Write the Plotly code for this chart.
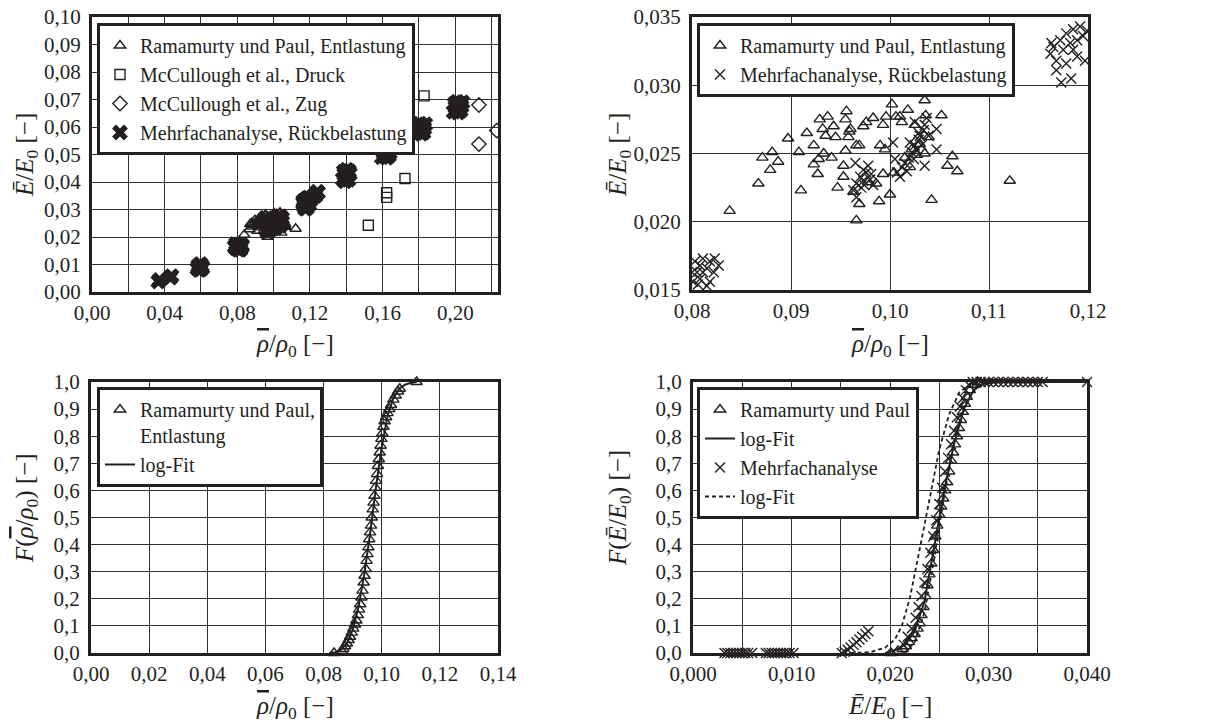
import plotly.graph_objects as go

FONT = "Liberation Serif, Times New Roman, DejaVu Serif, serif"
INK = "#231f20"
GRID = "#2e2e2e"

# ---------------- data: top plots (E/E0 over rho/rho0) ----------------
ram_rho = [0.0838, 0.0867, 0.0871, 0.0879, 0.0881, 0.0887, 0.0897, 0.0908, 0.0910, 0.0916,
           0.0923, 0.0923, 0.0927, 0.0928, 0.0929, 0.0932, 0.0933, 0.0937, 0.0935, 0.0941,
           0.0943, 0.0945, 0.0947, 0.0953, 0.0953, 0.0955, 0.0956, 0.0955, 0.0958, 0.0960,
           0.0963, 0.0966, 0.0966, 0.0969, 0.0969, 0.0973, 0.0976, 0.0983, 0.0986, 0.0989,
           0.0990, 0.0993, 0.0993, 0.0995, 0.0996, 0.1000, 0.1002, 0.1004, 0.1006, 0.1010,
           0.1018, 0.1015, 0.1020, 0.1022, 0.1025, 0.1030, 0.1035, 0.1036, 0.1039, 0.1035,
           0.1042, 0.1052, 0.1058, 0.1063, 0.1068, 0.1121, 0.0959, 0.0978, 0.1012, 0.1027]
ram_E = [0.0208, 0.0228, 0.0247, 0.0238, 0.0251, 0.0244, 0.0261, 0.0251, 0.0223, 0.0265,
         0.0256, 0.0242, 0.0235, 0.0246, 0.0275, 0.0268, 0.0250, 0.0277, 0.0263, 0.0247,
         0.0270, 0.0262, 0.0225, 0.0241, 0.0233, 0.0252, 0.0281, 0.0275, 0.0262, 0.0268,
         0.0222, 0.0256, 0.0201, 0.0213, 0.0256, 0.0270, 0.0273, 0.0276, 0.0228, 0.0215,
         0.0256, 0.0271, 0.0235, 0.0253, 0.0277, 0.0220, 0.0286, 0.0236, 0.0277, 0.0277,
         0.0282, 0.0247, 0.0240, 0.0253, 0.0271, 0.0257, 0.0289, 0.0278, 0.0262, 0.0250,
         0.0216, 0.0278, 0.0241, 0.0248, 0.0237, 0.0230, 0.0266, 0.0229, 0.0273, 0.0249]

mcc_druck_rho = [0.1521, 0.1622, 0.1622, 0.1723, 0.1828]
mcc_druck_E = [0.0243, 0.0361, 0.0344, 0.0413, 0.0713]
mcc_zug_rho = [0.2130, 0.2130, 0.2228]
mcc_zug_E = [0.0680, 0.0538, 0.0587]

# Mehrfachanalyse clusters (one small list per density group)
mfa_a_rho = [0.0365, 0.0372, 0.0432, 0.0438]
mfa_a_E = [0.0038, 0.0044, 0.0052, 0.0058]
mfa_c_rho = [0.0580, 0.0588, 0.0595, 0.0600, 0.0605, 0.0590, 0.0598, 0.0584, 0.0608]
mfa_c_E = [0.0085, 0.0098, 0.0090, 0.0082, 0.0095, 0.0080, 0.0102, 0.0092, 0.0088]
mfa_d_rho = [0.0801, 0.0805, 0.0808, 0.0811, 0.0815, 0.0818, 0.0822, 0.0823, 0.0808, 0.0815,
             0.0803, 0.0827, 0.0818, 0.0811, 0.0806, 0.0800, 0.0790, 0.0795, 0.0785, 0.0792]
mfa_d_E = [0.0156, 0.0163, 0.0168, 0.0173, 0.0166, 0.0171, 0.0163, 0.0173, 0.0158, 0.0153,
           0.0171, 0.0168, 0.0156, 0.0163, 0.0154, 0.0163, 0.0160, 0.0170, 0.0165, 0.0175]
mfa_e_rho = [0.0970, 0.0973, 0.0976, 0.0980, 0.0974, 0.0971, 0.0983, 0.0978, 0.0966, 0.0981,
             0.0973, 0.0963, 0.0966, 0.0965, 0.1007, 0.1012, 0.1015, 0.1019, 0.1022, 0.1025,
             0.1029, 0.1030, 0.1034, 0.1035, 0.1037, 0.1010, 0.1017, 0.1024, 0.1027, 0.1020,
             0.1032, 0.1029, 0.1039, 0.1003, 0.1005, 0.1047, 0.1047, 0.1035, 0.1025]
mfa_e_E = [0.0233, 0.0230, 0.0236, 0.0231, 0.0227, 0.0225, 0.0227, 0.0241, 0.0228, 0.0235,
           0.0238, 0.0223, 0.0218, 0.0243, 0.0236, 0.0240, 0.0243, 0.0247, 0.0251, 0.0256,
           0.0260, 0.0263, 0.0267, 0.0271, 0.0276, 0.0233, 0.0237, 0.0246, 0.0253, 0.0258,
           0.0256, 0.0265, 0.0263, 0.0258, 0.0246, 0.0253, 0.0268, 0.0241, 0.0273]
mfa_f_rho = [0.1162, 0.1165, 0.1168, 0.1172, 0.1175, 0.1178, 0.1182, 0.1185, 0.1189, 0.1192,
             0.1195, 0.1199, 0.1173, 0.1183, 0.1168, 0.1178, 0.1189, 0.1197, 0.1185, 0.1163,
             0.1205, 0.1215, 0.1225, 0.1235, 0.1245, 0.1230, 0.1240]
mfa_f_E = [0.0323, 0.0328, 0.0318, 0.0333, 0.0326, 0.0338, 0.0331, 0.0341, 0.0333, 0.0343,
           0.0336, 0.0340, 0.0302, 0.0305, 0.0311, 0.0316, 0.0321, 0.0318, 0.0326, 0.0331,
           0.0335, 0.0345, 0.0352, 0.0358, 0.0362, 0.0350, 0.0365]
mfa_g_rho = [0.1380, 0.1388, 0.1395, 0.1400, 0.1405, 0.1410, 0.1415, 0.1392, 0.1420, 0.1385, 0.1402, 0.1412]
mfa_g_E = [0.0410, 0.0428, 0.0418, 0.0435, 0.0412, 0.0425, 0.0440, 0.0402, 0.0430, 0.0438, 0.0445, 0.0408]
mfa_h_rho = [0.1595, 0.1605, 0.1610, 0.1618, 0.1625, 0.1632, 0.1640, 0.1600, 0.1622, 0.1645, 0.1612, 0.1635]
mfa_h_E = [0.0490, 0.0505, 0.0495, 0.0512, 0.0500, 0.0515, 0.0505, 0.0515, 0.0488, 0.0520, 0.0522, 0.0495]
mfa_i_rho = [0.1785, 0.1795, 0.1800, 0.1808, 0.1815, 0.1822, 0.1830, 0.1790, 0.1812, 0.1835, 0.1805, 0.1825]
mfa_i_E = [0.0578, 0.0592, 0.0582, 0.0600, 0.0588, 0.0605, 0.0595, 0.0605, 0.0575, 0.0610, 0.0612, 0.0580]
mfa_j_rho = [0.1990, 0.2000, 0.2005, 0.2012, 0.2020, 0.2028, 0.2035, 0.1995, 0.2015, 0.2040, 0.2010, 0.2030]
mfa_j_E = [0.0655, 0.0672, 0.0662, 0.0680, 0.0668, 0.0685, 0.0675, 0.0685, 0.0652, 0.0690, 0.0692, 0.0660]

# ---------------- data: bottom-left CDF of rho/rho0 ----------------
cdf_rho_x = [0.0836, 0.0862, 0.0868, 0.0874, 0.0880, 0.0886, 0.0891, 0.0897, 0.0902, 0.0908,
             0.0913, 0.0918, 0.0922, 0.0926, 0.0930, 0.0934, 0.0938, 0.0941, 0.0945, 0.0948,
             0.0951, 0.0954, 0.0957, 0.0960, 0.0963, 0.0966, 0.0969, 0.0972, 0.0975, 0.0978,
             0.0981, 0.0984, 0.0987, 0.0990, 0.0993, 0.0996, 0.0999, 0.1002, 0.1006, 0.1010,
             0.1015, 0.1020, 0.1026, 0.1032, 0.1040, 0.1048, 0.1056, 0.1062, 0.1120]
cdf_rho_F = [0.000, 0.008, 0.015, 0.025, 0.035, 0.048, 0.060, 0.075, 0.090, 0.105,
             0.120, 0.140, 0.160, 0.180, 0.205, 0.230, 0.260, 0.285, 0.310, 0.340,
             0.365, 0.390, 0.420, 0.445, 0.470, 0.500, 0.530, 0.555, 0.580, 0.610,
             0.635, 0.660, 0.690, 0.715, 0.740, 0.765, 0.790, 0.810, 0.835, 0.855,
             0.870, 0.885, 0.900, 0.915, 0.935, 0.950, 0.965, 0.975, 1.000]
fit_rho_x = [0.0820, 0.0840, 0.0860, 0.0880, 0.0900, 0.0920, 0.0940, 0.0960, 0.0980, 0.1000,
             0.1020, 0.1040, 0.1060, 0.1080, 0.1100, 0.1120]
fit_rho_F = [0.000, 0.003, 0.012, 0.035, 0.085, 0.170, 0.290, 0.440, 0.610, 0.760,
             0.875, 0.940, 0.975, 0.990, 0.997, 1.000]

# ---------------- data: bottom-right CDF of E/E0 ----------------
cdf_ram_E_x = [0.0201, 0.0208, 0.0213, 0.0216, 0.0219, 0.0222, 0.0225, 0.0228, 0.0230, 0.0232,
               0.0234, 0.0236, 0.0238, 0.0240, 0.0242, 0.0244, 0.0246, 0.0248, 0.0250, 0.0252,
               0.0254, 0.0256, 0.0258, 0.0260, 0.0262, 0.0264, 0.0266, 0.0268, 0.0270, 0.0272,
               0.0274, 0.0276, 0.0278, 0.0281, 0.0285, 0.0289]
cdf_ram_E_F = [0.000, 0.008, 0.015, 0.025, 0.040, 0.055, 0.070, 0.090, 0.110, 0.140,
               0.170, 0.210, 0.250, 0.290, 0.330, 0.380, 0.430, 0.470, 0.510, 0.540,
               0.570, 0.600, 0.630, 0.670, 0.710, 0.740, 0.770, 0.800, 0.830, 0.860,
               0.890, 0.920, 0.945, 0.970, 0.990, 1.000]
fit_ram_E_x = [0.0195, 0.0205, 0.0215, 0.0225, 0.0235, 0.0245, 0.0255, 0.0265, 0.0275, 0.0285,
               0.0295, 0.0310, 0.0400]
fit_ram_E_F = [0.000, 0.010, 0.030, 0.080, 0.190, 0.400, 0.600, 0.770, 0.900, 0.970,
               0.995, 1.000, 1.000]
cdf_mfa_E_x = [0.0032, 0.0035, 0.0038, 0.0041, 0.0044, 0.0047, 0.0050, 0.0053, 0.0056, 0.0060,
               0.0074, 0.0077, 0.0080, 0.0083, 0.0086, 0.0089, 0.0092, 0.0095, 0.0098, 0.0102,
               0.0151, 0.0154, 0.0157, 0.0160, 0.0163, 0.0166, 0.0169, 0.0172, 0.0175, 0.0178,
               0.0214, 0.0218, 0.0222, 0.0226, 0.0229, 0.0232, 0.0235, 0.0238, 0.0241, 0.0244,
               0.0247, 0.0250, 0.0253, 0.0256, 0.0259, 0.0262, 0.0265, 0.0268, 0.0271, 0.0274,
               0.0277, 0.0280, 0.0284, 0.0288, 0.0292, 0.0296, 0.0300, 0.0305, 0.0310, 0.0315,
               0.0320, 0.0325, 0.0330, 0.0335, 0.0340, 0.0345, 0.0350, 0.0355, 0.0400]
cdf_mfa_E_F = [0.000, 0.000, 0.000, 0.000, 0.000, 0.000, 0.000, 0.000, 0.000, 0.000,
               0.000, 0.000, 0.000, 0.000, 0.000, 0.000, 0.000, 0.000, 0.000, 0.000,
               0.000, 0.005, 0.012, 0.020, 0.030, 0.040, 0.050, 0.060, 0.070, 0.080,
               0.030, 0.060, 0.090, 0.130, 0.170, 0.210, 0.260, 0.310, 0.370, 0.430,
               0.490, 0.550, 0.610, 0.670, 0.720, 0.770, 0.820, 0.870, 0.910, 0.940,
               0.970, 0.990, 1.000, 1.000, 1.000, 1.000, 1.000, 1.000, 1.000, 1.000,
               1.000, 1.000, 1.000, 1.000, 1.000, 1.000, 1.000, 1.000, 1.000]
fit_mfa_a_x = [0.0160, 0.0180, 0.0195, 0.0205, 0.0212, 0.0220, 0.0230, 0.0240, 0.0250, 0.0260,
               0.0270, 0.0280, 0.0290, 0.0400]
fit_mfa_a_F = [0.000, 0.003, 0.020, 0.050, 0.100, 0.200, 0.380, 0.570, 0.750, 0.880,
               0.960, 0.990, 1.000, 1.000]
fit_mfa_b_x = [0.0215, 0.0225, 0.0235, 0.0245, 0.0255, 0.0265, 0.0275, 0.0285, 0.0295, 0.0305]
fit_mfa_b_F = [0.000, 0.040, 0.150, 0.350, 0.580, 0.780, 0.910, 0.970, 0.990, 1.000]

# ---------------- figure ----------------
fig = go.Figure()

tri = dict(symbol="triangle-up-open", size=10, color=INK, line=dict(width=1.4, color=INK))
sq = dict(symbol="square-open", size=10, color=INK, line=dict(width=1.4, color=INK))
dia = dict(symbol="diamond-open", size=11, color=INK, line=dict(width=1.4, color=INK))
xbold = dict(symbol="x", size=14, color=INK, line=dict(width=0))
xthin = dict(symbol="x-thin", size=10, color=INK, line=dict(width=1.4, color=INK))
DASH = "4px,3px"

mfa_rho_all = (mfa_a_rho + mfa_c_rho + mfa_d_rho + mfa_e_rho + mfa_f_rho
               + mfa_g_rho + mfa_h_rho + mfa_i_rho + mfa_j_rho)
mfa_E_all = (mfa_a_E + mfa_c_E + mfa_d_E + mfa_e_E + mfa_f_E
             + mfa_g_E + mfa_h_E + mfa_i_E + mfa_j_E)

# top-left
fig.add_trace(go.Scatter(x=ram_rho, y=ram_E, mode="markers", marker=tri,
                         name="Ramamurty und Paul, Entlastung", xaxis="x", yaxis="y", legend="legend"))
fig.add_trace(go.Scatter(x=mcc_druck_rho, y=mcc_druck_E, mode="markers", marker=sq,
                         name="McCullough et al., Druck", xaxis="x", yaxis="y", legend="legend"))
fig.add_trace(go.Scatter(x=mcc_zug_rho, y=mcc_zug_E, mode="markers", marker=dia,
                         name="McCullough et al., Zug", xaxis="x", yaxis="y", legend="legend"))
fig.add_trace(go.Scatter(x=mfa_rho_all, y=mfa_E_all, mode="markers", marker=xbold,
                         name="Mehrfachanalyse, Rückbelastung", xaxis="x", yaxis="y", legend="legend"))

# top-right
fig.add_trace(go.Scatter(x=ram_rho, y=ram_E, mode="markers", marker=tri,
                         name="Ramamurty und Paul, Entlastung", xaxis="x2", yaxis="y2", legend="legend2"))
fig.add_trace(go.Scatter(x=mfa_rho_all, y=mfa_E_all, mode="markers", marker=xthin,
                         name="Mehrfachanalyse, Rückbelastung", xaxis="x2", yaxis="y2", legend="legend2"))

# bottom-left
fig.add_trace(go.Scatter(x=fit_rho_x, y=fit_rho_F, mode="lines", line=dict(color=INK, width=2),
                         showlegend=False, xaxis="x3", yaxis="y3", cliponaxis=False))
fig.add_trace(go.Scatter(x=cdf_rho_x, y=cdf_rho_F, mode="markers", marker=tri,
                         name="Ramamurty und Paul,<br>Entlastung", xaxis="x3", yaxis="y3",
                         legend="legend3", cliponaxis=False))
fig.add_trace(go.Scatter(x=[None], y=[None], mode="lines", line=dict(color=INK, width=2),
                         name="log-Fit", xaxis="x3", yaxis="y3", legend="legend3"))

# bottom-right
fig.add_trace(go.Scatter(x=cdf_ram_E_x, y=cdf_ram_E_F, mode="markers", marker=tri,
                         name="Ramamurty und Paul", xaxis="x4", yaxis="y4", legend="legend4",
                         cliponaxis=False))
fig.add_trace(go.Scatter(x=fit_ram_E_x, y=fit_ram_E_F, mode="lines", line=dict(color=INK, width=2),
                         name="log-Fit", xaxis="x4", yaxis="y4", legend="legend4", cliponaxis=False))
fig.add_trace(go.Scatter(x=cdf_mfa_E_x, y=cdf_mfa_E_F, mode="markers", marker=xthin,
                         name="Mehrfachanalyse", xaxis="x4", yaxis="y4", legend="legend4",
                         cliponaxis=False))
fig.add_trace(go.Scatter(x=fit_mfa_a_x, y=fit_mfa_a_F, mode="lines",
                         line=dict(color=INK, width=1.8, dash=DASH),
                         name="log-Fit", xaxis="x4", yaxis="y4", legend="legend4", cliponaxis=False))
fig.add_trace(go.Scatter(x=fit_mfa_b_x, y=fit_mfa_b_F, mode="lines",
                         line=dict(color=INK, width=1.8, dash=DASH),
                         showlegend=False, xaxis="x4", yaxis="y4", cliponaxis=False))

W, H = 1218, 727


def px_x(a, b):
    return [a / W, b / W]


def px_y(top, bottom):
    return [1 - bottom / H, 1 - top / H]


def ax(domain, rng, dtick, fmt, anchor, minor=None, standoff=4):
    d = dict(domain=domain, range=rng, dtick=dtick, tick0=0, tickformat=fmt,
             showgrid=True, gridcolor=GRID, gridwidth=1.4, automargin=False,
             showline=True, linecolor=INK, linewidth=3, mirror=True,
             ticks="", zeroline=False, anchor=anchor, ticklabelstandoff=standoff,
             tickfont=dict(family=FONT, size=21, color=INK))
    if minor is not None:
        d["minor"] = dict(dtick=minor, tick0=0, showgrid=True, gridcolor=GRID, gridwidth=1.4)
    return d


legend_common = dict(bgcolor="white", bordercolor=INK, borderwidth=3,
                     font=dict(family=FONT, size=20, color=INK), itemwidth=30,
                     xanchor="left", yanchor="top", tracegroupgap=0, valign="top")

fig.update_layout(
    template="none",
    width=W, height=H, margin=dict(l=0, r=0, t=0, b=0, autoexpand=False),
    paper_bgcolor="white", plot_bgcolor="white",
    separators=",.",
    font=dict(family=FONT, color=INK),
    xaxis=ax(px_x(92, 498), [0, 0.2235], 0.04, ".2f", "y", minor=0.02, standoff=0),
    yaxis=ax(px_y(17, 292), [0, 0.10], 0.01, ".2f", "x"),
    xaxis2=ax(px_x(692, 1088), [0.08, 0.12], 0.01, ".2f", "y2", standoff=0),
    yaxis2=ax(px_y(17, 290), [0.015, 0.035], 0.005, ".3f", "x2"),
    xaxis3=ax(px_x(91, 498), [0, 0.14], 0.02, ".2f", "y3", standoff=0),
    yaxis3=ax(px_y(382, 653), [0, 1.0], 0.1, ".1f", "x3"),
    xaxis4=ax(px_x(693, 1087), [0, 0.040], 0.01, ".3f", "y4", minor=0.005, standoff=0),
    yaxis4=ax(px_y(382, 653), [0, 1.0], 0.1, ".1f", "x4"),
    legend=dict(x=97 / W, y=1 - 23 / H, **legend_common),
    legend2=dict(x=697 / W, y=1 - 23 / H, **legend_common),
    legend3=dict(x=97 / W, y=1 - 387 / H, **legend_common),
    legend4=dict(x=697 / W, y=1 - 387 / H, **legend_common),
    showlegend=True,
)

RHOBAR = "<span style='text-decoration:overline'><i>ρ</i></span>"
rho_title = RHOBAR + "/<i>ρ</i><sub>0</sub> [−]"
E_title = "<i>Ē</i>/<i>E</i><sub>0</sub> [−]"
titles = [
    (295, 345, rho_title, 0),
    (27, 155, E_title, -90),
    (890, 345, rho_title, 0),
    (620, 155, E_title, -90),
    (295, 707, rho_title, 0),
    (27, 508, "<i>F</i>(" + RHOBAR + "/<i>ρ</i><sub>0</sub>) [−]", -90),
    (890, 707, E_title, 0),
    (620, 508, "<i>F</i>(<i>Ē</i>/<i>E</i><sub>0</sub>) [−]", -90),
]
for (tx, ty, txt, ang) in titles:
    fig.add_annotation(x=tx / W, y=1 - ty / H, xref="paper", yref="paper", text=txt,
                       showarrow=False, textangle=ang, xanchor="center", yanchor="middle",
                       font=dict(family=FONT, size=25, color=INK))

fig.write_html("out.html", config={"displayModeBar": False},
               post_script="document.body.style.margin='0px';")
